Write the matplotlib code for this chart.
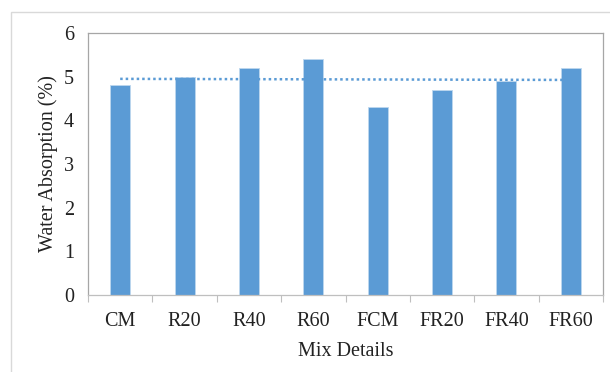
import numpy as np
import matplotlib
matplotlib.use("Agg")
import matplotlib.pyplot as plt
from matplotlib.patches import Rectangle

mixes = ["CM", "R20", "R40", "R60", "FCM", "FR20", "FR40", "FR60"]
absorption = [4.8, 5.0, 5.2, 5.4, 4.3, 4.7, 4.9, 5.2]

plt.rcParams["font.family"] = ["Liberation Serif", "DejaVu Serif"]

W, H = 610, 372
fig = plt.figure(figsize=(W / 100, H / 100), dpi=100)

# outer chart frame
fig.patches.append(Rectangle((11 / W, -0.05), 1.2, 1 - 12 / H + 0.05,
                             transform=fig.transFigure, fill=False,
                             edgecolor="#D9D9D9", linewidth=1.0))

ax = fig.add_axes([88 / W, 1 - 295 / H, (603 - 88) / W, (295 - 33) / H])
x = np.arange(len(mixes))
ax.bar(x, absorption, width=0.31, color="#5B9BD5", edgecolor="#BDD7EE",
       linewidth=0.6, zorder=2)

# linear trendline through the bar values
coef = np.polyfit(x, absorption, 1)
ax.plot(x, np.polyval(coef, x), linestyle=(0, (1, 1.2)), color="#5B9BD5",
        linewidth=1.8, zorder=3)

ax.set_xlim(-0.5, len(mixes) - 0.5)
ax.set_ylim(0, 6)
ax.set_yticks(range(0, 7))
ax.set_xticks(x)
ax.set_xticklabels(mixes)
ax.set_xticks(np.arange(-0.5, len(mixes)), minor=True)
ax.tick_params(axis="x", which="major", length=0, pad=12, labelsize=14.5, colors="#222222")
ax.tick_params(axis="x", which="minor", length=5, color="#BFBFBF", width=0.8)
ax.tick_params(axis="y", length=0, pad=10, labelsize=14.5, colors="#222222")
for s in ax.spines.values():
    s.set_color("#A6A6A6")
    s.set_linewidth(0.9)
ax.spines["bottom"].set_color("#BFBFBF")

ax.set_xlabel("Mix Details", fontsize=14.5, color="#222222", labelpad=8)
ax.set_ylabel("Water Absorption (%)", fontsize=14.5, color="#222222", labelpad=4)

fig.savefig("out.png", dpi=100)
